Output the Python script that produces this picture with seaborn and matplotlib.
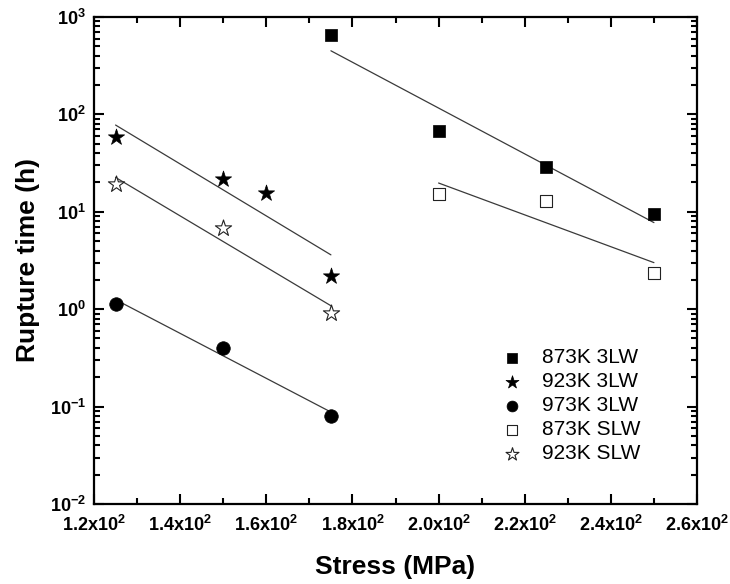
import numpy as np
import matplotlib
matplotlib.use("Agg")
import matplotlib.pyplot as plt
from matplotlib.ticker import FixedLocator, LogLocator, FuncFormatter, NullFormatter
import seaborn as sns

sns.set_theme(style="ticks")
plt.rcParams["font.family"] = ["Liberation Sans", "DejaVu Sans"]
plt.rcParams["mathtext.fontset"] = "custom"
plt.rcParams["mathtext.rm"] = "Liberation Sans"
plt.rcParams["mathtext.bf"] = "Liberation Sans:bold"
plt.rcParams["text.color"] = "black"
plt.rcParams["axes.labelcolor"] = "black"

# data (stress in MPa, rupture time in h)
stress_873_3lw = [175, 200, 225, 250]
time_873_3lw = [655, 67, 29, 9.5]
stress_923_3lw = [125, 150, 160, 175]
time_923_3lw = [58.5, 21.5, 15.4, 2.2]
stress_973_3lw = [125, 150, 175]
time_973_3lw = [1.14, 0.40, 0.080]
stress_873_slw = [200, 225, 250]
time_873_slw = [15.3, 12.8, 2.33]
stress_923_slw = [125, 150, 175]
time_923_slw = [19.1, 6.87, 0.92]

labels = ["873K 3LW", "923K 3LW", "973K 3LW", "873K SLW", "923K SLW"]
xticks = [120, 140, 160, 180, 200, 220, 240, 260]
xticklabels = ["1.2x10^{2}", "1.4x10^{2}", "1.6x10^{2}", "1.8x10^{2}",
               "2.0x10^{2}", "2.2x10^{2}", "2.4x10^{2}", "2.6x10^{2}"]

series = [
    (stress_873_3lw, time_873_3lw, "s", True, 80),
    (stress_923_3lw, time_923_3lw, "*", True, 150),
    (stress_973_3lw, time_973_3lw, "o", True, 95),
    (stress_873_slw, time_873_slw, "s", False, 80),
    (stress_923_slw, time_923_slw, "*", False, 150),
]

fig = plt.figure(figsize=(7.3, 5.84), dpi=100)
ax = fig.add_axes([0.1288, 0.137, 0.826, 0.834])
ax.set_yscale("log")

handles = []
for (x, y, m, filled, s), lab in zip(series, labels):
    # power-law fit drawn as straight line in log space
    k, b = np.polyfit(x, np.log10(y), 1)
    xs = np.array([min(x), max(x)])
    sns.lineplot(x=xs, y=10 ** (k * xs + b), ax=ax, color="#3a3a3a",
                 linewidth=0.9, legend=False)
    if filled:
        sns.scatterplot(x=x, y=y, ax=ax, marker=m, s=s, color="black",
                        edgecolor="black", linewidth=0.5, zorder=3)
    else:
        sns.scatterplot(x=x, y=y, ax=ax, marker=m, s=s, facecolor="white",
                        edgecolor="#222222", linewidth=0.8, zorder=3)
    handles.append(ax.collections[-1])

ax.set_xlim(120, 260)
ax.set_ylim(1e-2, 1e3)

ax.xaxis.set_major_locator(FixedLocator(xticks))
ax.set_xticklabels([r"$\mathbf{%s}$" % t for t in xticklabels])
ax.xaxis.set_minor_locator(FixedLocator([130, 150, 170, 190, 210, 230, 250]))
ax.yaxis.set_major_locator(LogLocator(base=10, numticks=10))
ax.yaxis.set_minor_locator(LogLocator(base=10, subs=np.arange(2, 10), numticks=20))
ax.yaxis.set_major_formatter(FuncFormatter(lambda v, p: r"$\mathbf{10^{%d}}$" % round(np.log10(v))))
ax.yaxis.set_minor_formatter(NullFormatter())

ax.tick_params(which="both", direction="in", top=True, right=True, width=1.5,
               labelsize=13, colors="black")
ax.tick_params(which="major", length=7)
ax.tick_params(which="minor", length=4.5)
ax.tick_params(axis="x", pad=8)
ax.tick_params(axis="y", pad=6)
for sp in ax.spines.values():
    sp.set_linewidth(1.6)
    sp.set_color("black")

ax.set_xlabel("Stress (MPa)", fontsize=19, fontweight="bold", labelpad=14)
ax.set_ylabel("Rupture time (h)", fontsize=19, fontweight="bold", labelpad=7)

ax.legend(handles, labels, loc="lower left", bbox_to_anchor=(0.672, 0.084),
          frameon=False, fontsize=15, markerscale=0.8, handletextpad=0.84,
          labelspacing=0.24, handlelength=1.2, borderpad=0, borderaxespad=0)

fig.savefig("out.png", dpi=100)
